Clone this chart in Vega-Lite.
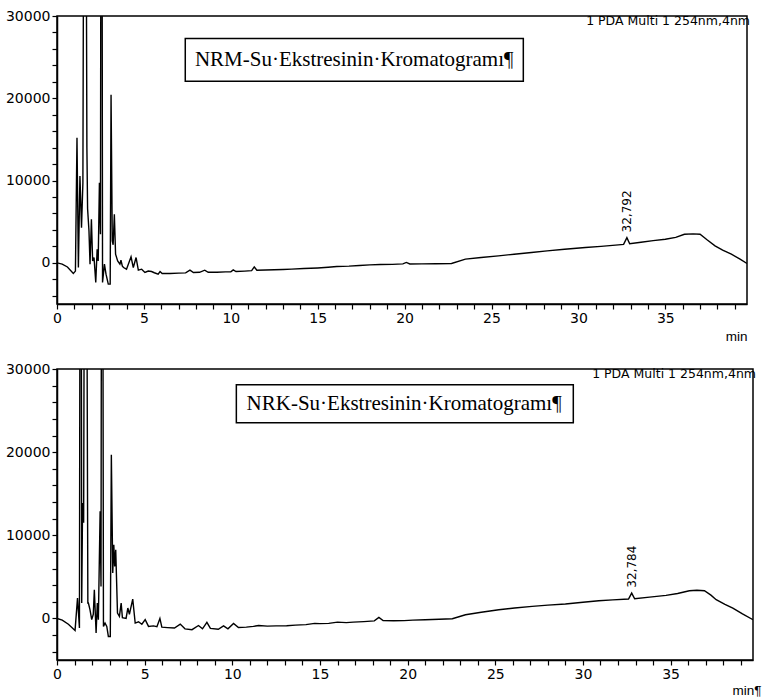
{
  "$schema": "https://vega.github.io/schema/vega-lite/v6.json",
  "padding": {"left": 4, "top": 8, "right": 0, "bottom": 0},
  "background": "white",
  "config": {
    "view": {"stroke": "black", "strokeWidth": 1.5},
    "concat": {"spacing": 17},
    "axis": {
      "grid": false, "domainColor": "black", "domainWidth": 1.5, "tickColor": "black", "tickWidth": 1.2, "tickSize": 5,
      "labelColor": "black", "labelFont": "DejaVu Sans", "labelFontSize": 14, "labelPadding": 2,
      "titleFont": "Liberation Sans", "titleFontSize": 13.5, "titleFontWeight": "normal", "titleColor": "black"
    }
  },
  "datasets": {
    "nrm": [
      {"t":0,"v":0},{"t":0.3,"v":-150},{"t":0.6,"v":-500},{"t":0.94,"v":-1290},{"t":1.06,"v":-1000},{"t":1.15,"v":15190},{"t":1.23,"v":-570},{"t":1.32,"v":10550},{"t":1.41,"v":4280},{"t":1.49,"v":9740},{"t":1.6,"v":100000},{"t":1.72,"v":13980},{"t":1.76,"v":6580},{"t":1.84,"v":3880},{"t":1.9,"v":-160},{"t":1.98,"v":5300},{"t":2.05,"v":240},{"t":2.13,"v":650},{"t":2.23,"v":-2380},{"t":2.31,"v":1650},{"t":2.37,"v":240},{"t":2.44,"v":9740},{"t":2.5,"v":3470},{"t":2.56,"v":100000},{"t":2.62,"v":-2380},{"t":2.73,"v":-160},{"t":2.82,"v":-1370},{"t":2.95,"v":-2590},{"t":3.06,"v":-2590},{"t":3.11,"v":20440},{"t":3.18,"v":2670},{"t":3.23,"v":2200},{"t":3.3,"v":5900},{"t":3.37,"v":1050},{"t":3.49,"v":240},{"t":3.62,"v":-160},{"t":3.68,"v":320},{"t":3.76,"v":-400},{"t":3.83,"v":-570},{"t":4.0,"v":-770},{"t":4.26,"v":730},{"t":4.39,"v":-570},{"t":4.55,"v":650},{"t":4.68,"v":-890},{"t":4.87,"v":-770},{"t":5.06,"v":-1170},{"t":5.25,"v":-1000},{"t":5.44,"v":-1050},{"t":5.6,"v":-1200},{"t":5.82,"v":-1370},{"t":5.93,"v":-1050},{"t":6.05,"v":-1300},{"t":6.5,"v":-1300},{"t":7.0,"v":-1250},{"t":7.4,"v":-1220},{"t":7.65,"v":-890},{"t":7.85,"v":-1180},{"t":8.2,"v":-1150},{"t":8.5,"v":-890},{"t":8.7,"v":-1150},{"t":9.2,"v":-1150},{"t":9.7,"v":-1100},{"t":10.0,"v":-1100},{"t":10.14,"v":-850},{"t":10.3,"v":-1050},{"t":10.8,"v":-1000},{"t":11.2,"v":-950},{"t":11.35,"v":-500},{"t":11.5,"v":-900},{"t":12.0,"v":-870},{"t":12.5,"v":-840},{"t":13.0,"v":-800},{"t":13.5,"v":-760},{"t":14.2,"v":-690},{"t":15.0,"v":-620},{"t":15.6,"v":-540},{"t":16.1,"v":-450},{"t":16.8,"v":-400},{"t":17.4,"v":-320},{"t":18.0,"v":-250},{"t":18.6,"v":-200},{"t":19.3,"v":-190},{"t":19.9,"v":-120},{"t":20.1,"v":50},{"t":20.3,"v":-130},{"t":21.0,"v":-120},{"t":21.8,"v":-100},{"t":22.7,"v":-80},{"t":23.5,"v":450},{"t":24.4,"v":650},{"t":25.4,"v":850},{"t":26.3,"v":1050},{"t":27.3,"v":1250},{"t":28.2,"v":1450},{"t":29.2,"v":1660},{"t":30.4,"v":1860},{"t":31.3,"v":2000},{"t":32.3,"v":2180},{"t":32.6,"v":2240},{"t":32.79,"v":3070},{"t":32.95,"v":2330},{"t":33.6,"v":2500},{"t":34.3,"v":2700},{"t":35.0,"v":2870},{"t":35.6,"v":3100},{"t":36.1,"v":3480},{"t":36.6,"v":3520},{"t":37.0,"v":3480},{"t":37.4,"v":2800},{"t":37.86,"v":2060},{"t":38.3,"v":1550},{"t":38.8,"v":1050},{"t":39.3,"v":450},{"t":39.7,"v":-80}
    ],
    "nrk": [
      {"t":0,"v":0},{"t":0.3,"v":-200},{"t":0.65,"v":-700},{"t":1.03,"v":-1440},{"t":1.17,"v":2450},{"t":1.28,"v":-1160},{"t":1.35,"v":100000},{"t":1.41,"v":1850},{"t":1.46,"v":13890},{"t":1.52,"v":11500},{"t":1.62,"v":100000},{"t":1.76,"v":1850},{"t":1.79,"v":1850},{"t":1.88,"v":1050},{"t":1.98,"v":-150},{"t":2.07,"v":500},{"t":2.13,"v":3450},{"t":2.23,"v":-1760},{"t":2.3,"v":1850},{"t":2.36,"v":-150},{"t":2.46,"v":12880},{"t":2.51,"v":3850},{"t":2.57,"v":100000},{"t":2.65,"v":-960},{"t":2.74,"v":-560},{"t":2.84,"v":-960},{"t":2.93,"v":-2170},{"t":3.04,"v":-2170},{"t":3.1,"v":19700},{"t":3.18,"v":5460},{"t":3.24,"v":8870},{"t":3.29,"v":6260},{"t":3.35,"v":8270},{"t":3.45,"v":650},{"t":3.56,"v":250},{"t":3.66,"v":1850},{"t":3.73,"v":100},{"t":3.94,"v":0},{"t":4.04,"v":1250},{"t":4.13,"v":500},{"t":4.32,"v":2330},{"t":4.46,"v":-560},{"t":4.65,"v":-400},{"t":4.84,"v":-700},{"t":5.03,"v":-150},{"t":5.22,"v":-960},{"t":5.5,"v":-900},{"t":5.7,"v":-1000},{"t":5.87,"v":0},{"t":5.98,"v":-1050},{"t":6.3,"v":-1100},{"t":6.7,"v":-1160},{"t":7.03,"v":-680},{"t":7.3,"v":-1250},{"t":7.7,"v":-1350},{"t":8.07,"v":-850},{"t":8.3,"v":-1250},{"t":8.55,"v":-480},{"t":8.75,"v":-1200},{"t":9.2,"v":-1300},{"t":9.5,"v":-900},{"t":9.75,"v":-1250},{"t":10.07,"v":-600},{"t":10.35,"v":-1100},{"t":10.8,"v":-1050},{"t":11.2,"v":-960},{"t":11.5,"v":-850},{"t":12.0,"v":-930},{"t":12.5,"v":-900},{"t":13.1,"v":-880},{"t":13.6,"v":-800},{"t":14.2,"v":-750},{"t":14.7,"v":-600},{"t":15.0,"v":-620},{"t":15.5,"v":-600},{"t":16.0,"v":-450},{"t":16.5,"v":-500},{"t":16.9,"v":-450},{"t":17.5,"v":-380},{"t":18.1,"v":-300},{"t":18.36,"v":120},{"t":18.6,"v":-260},{"t":19.2,"v":-280},{"t":19.8,"v":-260},{"t":20.3,"v":-200},{"t":21.0,"v":-150},{"t":21.8,"v":-100},{"t":22.55,"v":-40},{"t":23.3,"v":440},{"t":24.2,"v":750},{"t":25.2,"v":1050},{"t":26.1,"v":1250},{"t":27.1,"v":1450},{"t":28.0,"v":1600},{"t":29.0,"v":1730},{"t":30.0,"v":1950},{"t":30.9,"v":2130},{"t":31.7,"v":2230},{"t":32.6,"v":2330},{"t":32.78,"v":3050},{"t":32.95,"v":2370},{"t":33.8,"v":2560},{"t":34.74,"v":2770},{"t":35.4,"v":3000},{"t":36.07,"v":3330},{"t":36.5,"v":3380},{"t":36.93,"v":3330},{"t":37.3,"v":2800},{"t":37.6,"v":2250},{"t":38.1,"v":1700},{"t":38.55,"v":1250},{"t":39.1,"v":550},{"t":39.7,"v":-160}
    ],
    "nrmBox": [{"t1": 7.38, "t2": 26.83, "v1": 22060, "v2": 27270, "tc": 17.1, "vc": 24670, "label": "NRM-Su·Ekstresinin·Kromatogramı¶"}],
    "nrkBox": [{"t1": 10.23, "t2": 29.45, "v1": 23550, "v2": 28120, "tc": 19.8, "vc": 25840, "label": "NRK-Su·Ekstresinin·Kromatogramı¶"}],
    "nrmNote": [{"t": 39.7, "v": 30000, "label": "1 PDA Multi 1 254nm,4nm"}],
    "nrkNote": [{"t": 39.7, "v": 30000, "label": "1 PDA Multi 1 254nm,4nm"}],
    "nrmPeak": [{"t": 32.79, "v": 3700, "label": "32,792"}],
    "nrkPeak": [{"t": 32.78, "v": 3700, "label": "32,784"}]
  },
  "vconcat": [
    {
      "width": 690, "height": 288,
      "encoding": {
        "x": {"field": "t", "type": "quantitative", "scale": {"domain": [0, 39.7], "nice": false, "zero": false},
          "axis": {"values": [0,1,2,3,4,5,6,7,8,9,10,11,12,13,14,15,16,17,18,19,20,21,22,23,24,25,26,27,28,29,30,31,32,33,34,35,36,37,38,39],
            "labelExpr": "datum.value % 5 === 0 ? datum.label : ''", "title": "min", "titleAnchor": "end", "titleAlign": "right", "titlePadding": 4, "labelFlush": false}},
        "y": {"field": "v", "type": "quantitative", "scale": {"domain": [-5000, 30000], "nice": false, "zero": false},
          "axis": {"values": [-4000,-2000,0,2000,4000,6000,8000,10000,12000,14000,16000,18000,20000,22000,24000,26000,28000,30000],
            "format": "d", "labelExpr": "datum.value % 10000 === 0 ? datum.label : ''", "title": null}}
      },
      "layer": [
        {"data": {"name": "nrm"}, "mark": {"type": "line", "color": "black", "strokeWidth": 1.4, "clip": true}},
        {"data": {"name": "nrmBox"}, "mark": {"type": "rect", "fill": "white", "stroke": "black", "strokeWidth": 1.5},
          "encoding": {"x": {"field": "t1", "type": "quantitative"}, "x2": {"field": "t2"}, "y": {"field": "v1", "type": "quantitative"}, "y2": {"field": "v2"}}},
        {"data": {"name": "nrmBox"}, "mark": {"type": "text", "font": "Liberation Serif", "fontSize": 21, "color": "black", "align": "center", "baseline": "middle"},
          "encoding": {"x": {"field": "tc", "type": "quantitative"}, "y": {"field": "vc", "type": "quantitative"}, "text": {"field": "label"}}},
        {"data": {"name": "nrmNote"}, "mark": {"type": "text", "font": "DejaVu Sans", "fontSize": 12.5, "color": "black", "align": "right", "baseline": "top", "dx": 3, "dy": -1},
          "encoding": {"text": {"field": "label"}}},
        {"data": {"name": "nrmPeak"}, "mark": {"type": "text", "font": "DejaVu Sans", "fontSize": 12, "color": "black", "align": "left", "baseline": "middle", "angle": 270},
          "encoding": {"text": {"field": "label"}}}
      ]
    },
    {
      "width": 696, "height": 291,
      "encoding": {
        "x": {"field": "t", "type": "quantitative", "scale": {"domain": [0, 39.7], "nice": false, "zero": false},
          "axis": {"values": [0,1,2,3,4,5,6,7,8,9,10,11,12,13,14,15,16,17,18,19,20,21,22,23,24,25,26,27,28,29,30,31,32,33,34,35,36,37,38,39],
            "labelExpr": "datum.value % 5 === 0 ? datum.label : ''", "title": "min¶", "titleAnchor": "end", "titleAlign": "right", "titlePadding": 2, "titleX": 704, "labelFlush": false}},
        "y": {"field": "v", "type": "quantitative", "scale": {"domain": [-5000, 30000], "nice": false, "zero": false},
          "axis": {"values": [-4000,-2000,0,2000,4000,6000,8000,10000,12000,14000,16000,18000,20000,22000,24000,26000,28000,30000],
            "format": "d", "labelExpr": "datum.value % 10000 === 0 ? datum.label : ''", "title": null}}
      },
      "layer": [
        {"data": {"name": "nrk"}, "mark": {"type": "line", "color": "black", "strokeWidth": 1.4, "clip": true}},
        {"data": {"name": "nrkBox"}, "mark": {"type": "rect", "fill": "white", "stroke": "black", "strokeWidth": 1.5},
          "encoding": {"x": {"field": "t1", "type": "quantitative"}, "x2": {"field": "t2"}, "y": {"field": "v1", "type": "quantitative"}, "y2": {"field": "v2"}}},
        {"data": {"name": "nrkBox"}, "mark": {"type": "text", "font": "Liberation Serif", "fontSize": 21, "color": "black", "align": "center", "baseline": "middle"},
          "encoding": {"x": {"field": "tc", "type": "quantitative"}, "y": {"field": "vc", "type": "quantitative"}, "text": {"field": "label"}}},
        {"data": {"name": "nrkNote"}, "mark": {"type": "text", "font": "DejaVu Sans", "fontSize": 12.5, "color": "black", "align": "right", "baseline": "top", "dx": 3, "dy": -1},
          "encoding": {"text": {"field": "label"}}},
        {"data": {"name": "nrkPeak"}, "mark": {"type": "text", "font": "DejaVu Sans", "fontSize": 12, "color": "black", "align": "left", "baseline": "middle", "angle": 270},
          "encoding": {"text": {"field": "label"}}}
      ]
    }
  ]
}
